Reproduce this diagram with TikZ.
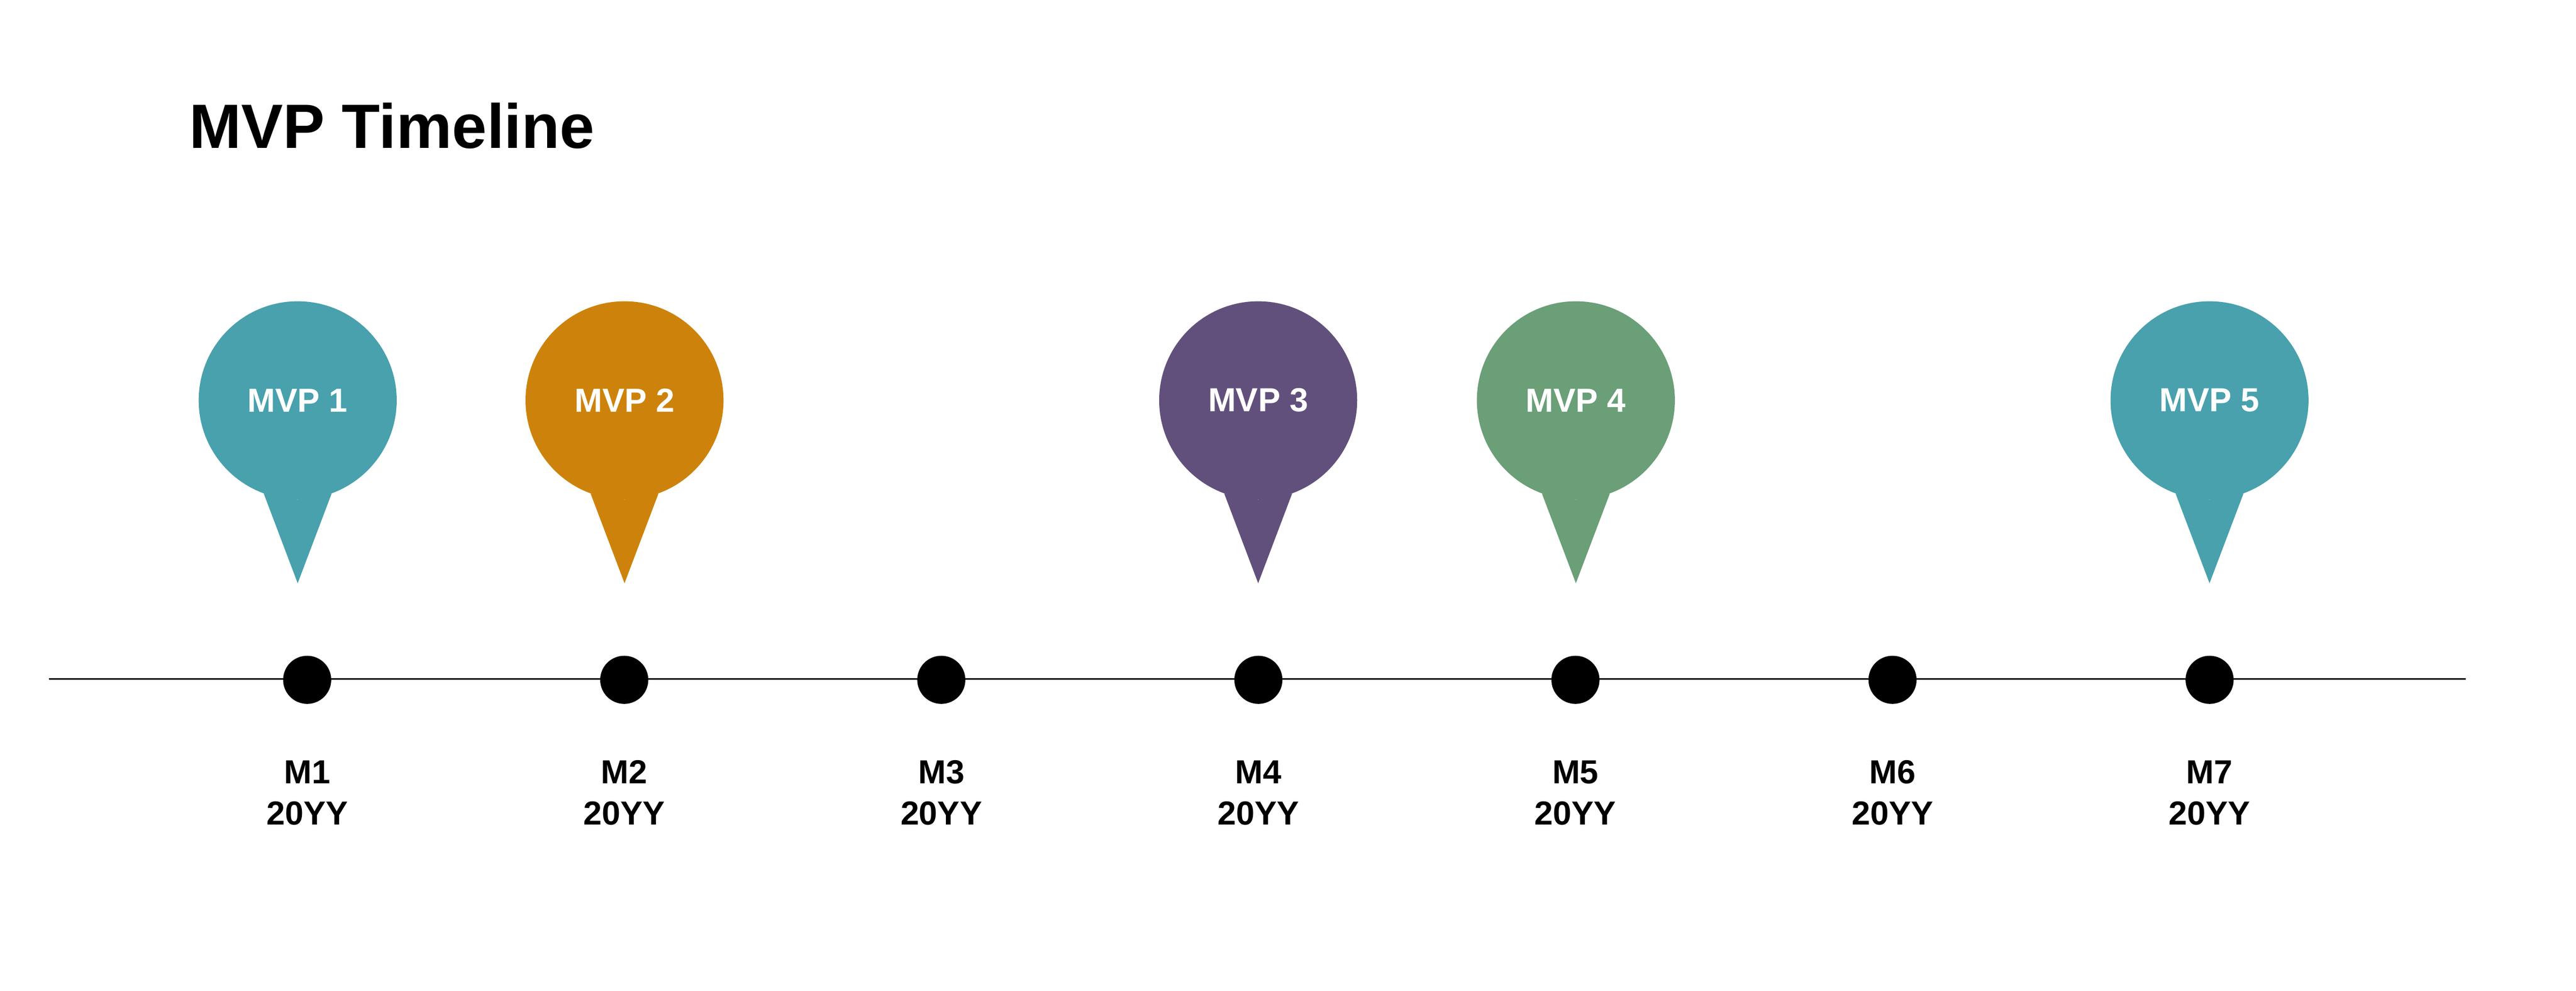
\documentclass[tikz,border=0pt]{standalone}
\usepackage{fontspec}
\setmainfont{Liberation Sans}
\usetikzlibrary{positioning,calc}
\usepackage{xcolor}

\definecolor{mvpteal}{RGB}{72,161,173}
\definecolor{mvporange}{RGB}{205,131,11}
\definecolor{mvppurple}{RGB}{98,80,124}
\definecolor{mvpgreen}{RGB}{106,159,120}

\tikzset{
  pinhead/.style={circle, fill=#1, minimum size=5.64cm, inner sep=0pt, text=white, font=\fontsize{27}{32}\selectfont\bfseries},
  milestone/.style={circle, fill=black, minimum size=1.37cm, inner sep=0pt},
  datelabel/.style={font=\fontsize{27}{33.5}\selectfont\bfseries, align=center, inner sep=0pt}
}

\begin{document}
\begin{tikzpicture}

% Canvas
\fill[white] (0,0) rectangle (73.38,28.22);

% Title
\node[font=\fontsize{50.7}{60}\selectfont\bfseries, anchor=base west, inner sep=0pt] (title) at (5.38,24.00) {MVP Timeline};

% Timeline axis
\coordinate (axisL) at (1.40,8.88);
\coordinate (axisR) at (70.24,8.88);
\draw[line width=1.1pt] (axisL) -- (axisR);

% Milestones and dates
\foreach \i in {1,...,7} {
    \pgfmathsetmacro{\xpos}{8.75+9.032*(\i-1)}
    \node[milestone] (d\i) at (\xpos,8.86) {};
    \node[datelabel] (l\i) at (\xpos,5.64) {M\i\\20YY};
}

% MVP pins
\foreach \i/\x/\c in {1/8.48/mvpteal, 2/17.79/mvporange, 3/35.84/mvppurple, 4/44.89/mvpgreen, 5/62.94/mvpteal} {
    \node[pinhead=\c] (p\i) at (\x,16.82) {MVP \i};
    \coordinate (t\i) at (\x,11.61);
    \fill[\c] (p\i.-70) -- (t\i) -- (p\i.-110) -- (p\i.south) -- cycle;
}

\end{tikzpicture}
\end{document}
